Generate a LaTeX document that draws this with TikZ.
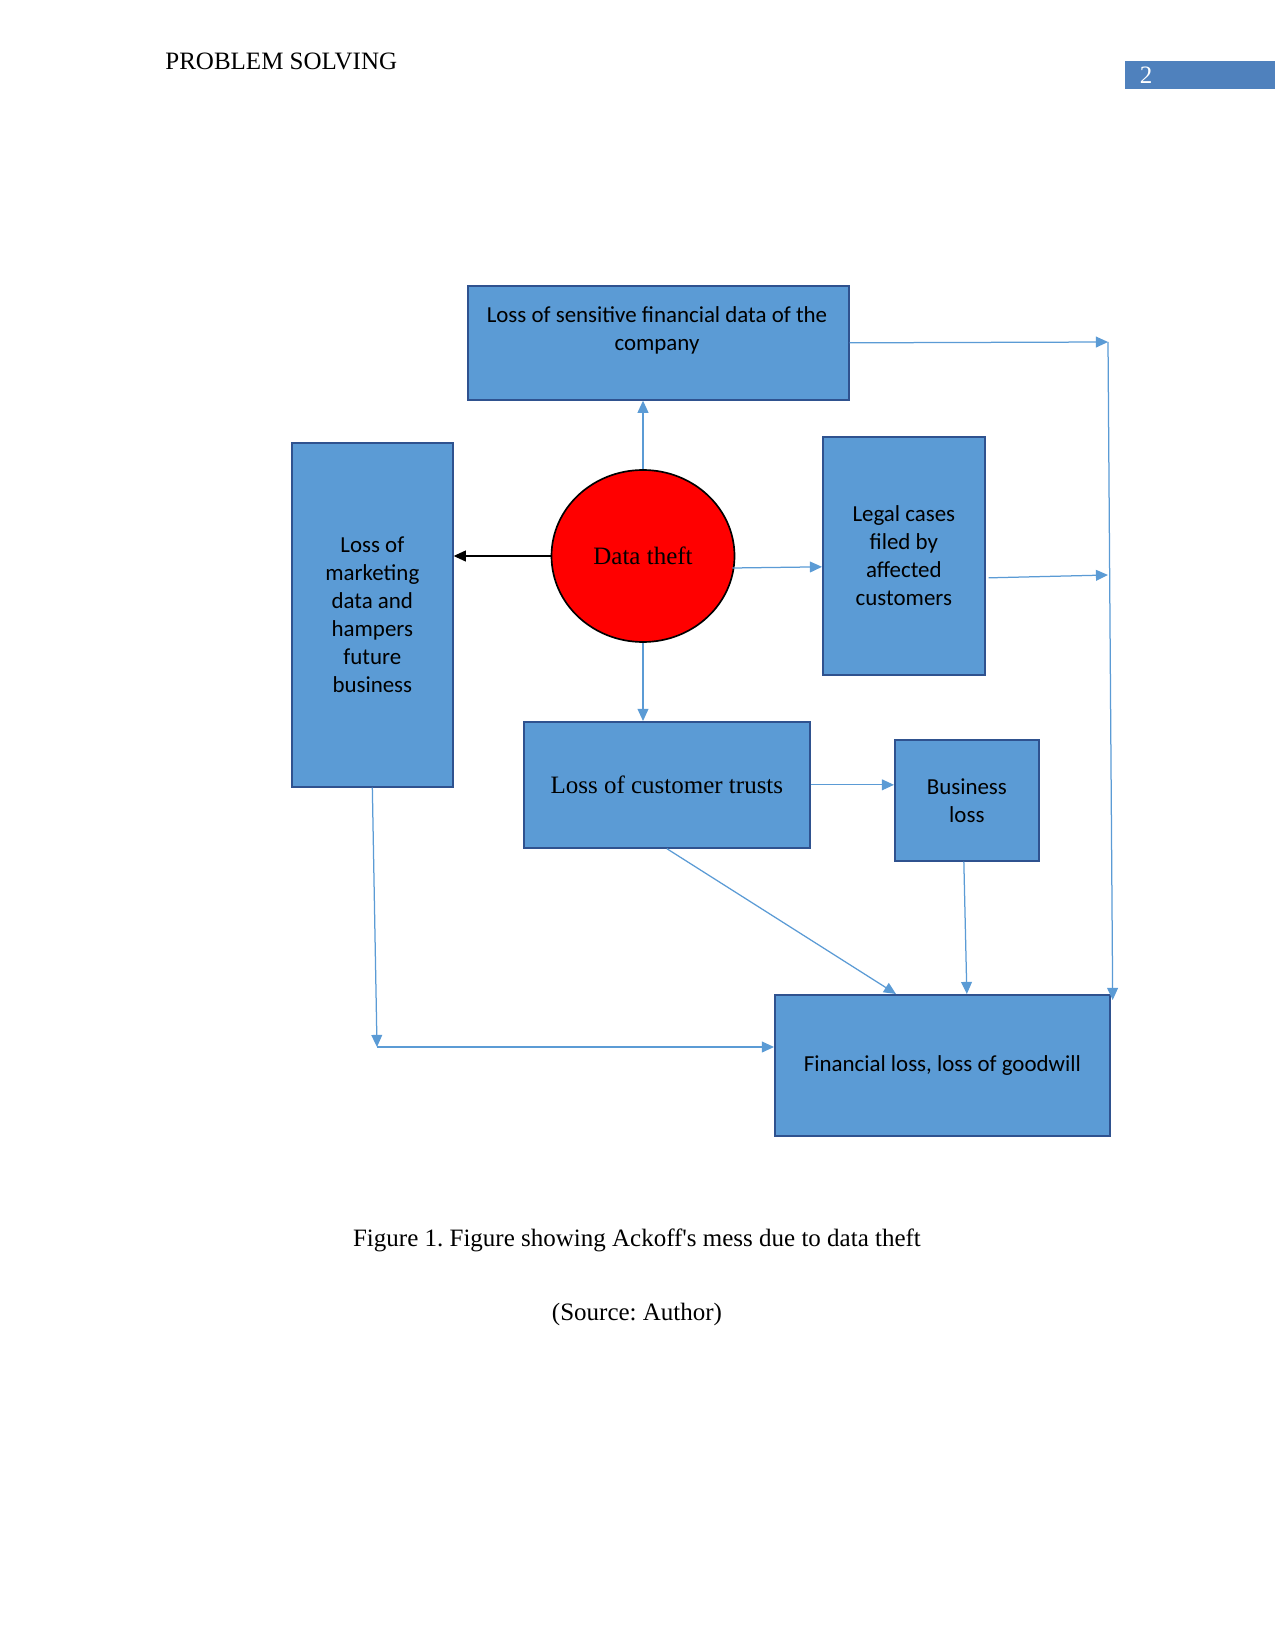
\documentclass[tikz,border=0pt]{standalone}
\usepackage{fontspec}
\setmainfont{Liberation Serif}
\newfontfamily\boxfont{Carlito}
\usetikzlibrary{arrows.meta,calc,shapes.geometric}
\definecolor{boxfill}{HTML}{5B9BD5}
\definecolor{boxline}{HTML}{2F528F}
\definecolor{arrowblue}{HTML}{5B9BD5}
\definecolor{pagebox}{HTML}{4F81BD}
\frenchspacing
\begin{document}
\begin{tikzpicture}[x=0.48pt,y=-0.48pt,
  box/.style={draw=boxline, fill=boxfill, line width=0.8pt, inner sep=0pt, anchor=north west,
              font=\boxfont\fontsize{11}{13.4}\selectfont, align=center, text=black},
  btext/.style={font=\boxfont\fontsize{11}{13.4}\selectfont, align=center, text=black},
  conn/.style={draw=arrowblue, line width=0.6pt, -{Triangle[length=5.8pt,width=5.2pt]}},
  serif/.style={font=\fontsize{12}{14}\selectfont}]
\useasboundingbox (0,0) rectangle (1275,1650);
% header
\node[serif, anchor=west, inner sep=0pt] (hdr) at (165,61) {PROBLEM SOLVING};
\node[fill=pagebox, anchor=north west, minimum width=72pt, minimum height=13.4pt, inner sep=0pt] (pg) at (1125,61) {};
\node[serif, text=white, inner sep=0pt] (pgnum) at (1146,75) {2};
% boxes
\node[box, minimum width=182.88pt, minimum height=54.72pt] (top) at (467,285) {};
\node[btext] (toptxt) at (657,330) {Loss of sensitive financial data of the\\company};
\node[box, minimum width=77.28pt, minimum height=165.12pt] (left) at (291,442)
  {Loss of\\marketing\\data and\\hampers\\future\\business};
\node[draw=black, fill=red, ellipse, minimum width=87.84pt, minimum height=82.56pt,
      inner sep=0pt, line width=0.8pt, serif] (dt) at (643,556) {Data theft};
\node[box, minimum width=77.76pt, minimum height=114.24pt] (legal) at (822,436)
  {Legal cases\\filed by\\affected\\customers};
\node[box, minimum width=137.28pt, minimum height=60.48pt, serif] (cust) at (523,721)
  {Loss of customer trusts};
\node[box, minimum width=69.12pt, minimum height=58.08pt] (biz) at (894,739)
  {Business\\loss};
\node[box, minimum width=160.8pt, minimum height=67.68pt] (fin) at (774,994)
  {Financial loss, loss of goodwill};
% coordinates
\coordinate (c1) at (1108,342);
\coordinate (c2) at (1108,575);
\coordinate (c3) at (377,1047);
% connectors
\draw[conn] (dt.north) -- (dt.north |- top.south);
\draw[conn, draw=black] (dt.west) -- (dt.west -| left.east);
\draw[conn] ($(dt.east)+(-3,12)$) -- ($(legal.west)+(0,11)$);
\draw[conn] (dt.south) -- (dt.south |- cust.north);
\draw[conn] (top.east) -- (c1);
\draw[conn] ($(legal.east)+(3,22)$) -- (c2);
\draw[conn] (c1) -- ($(fin.north east)+(2,6)$);
\draw[conn] (cust.east) -- (cust.east -| biz.west);
\draw[conn] (cust.south) -- ($(fin.north west)+(122,0)$);
\draw[conn] ($(biz.south)+(-3,0)$) -- (biz.south |- fin.north);
\draw[conn] (left.south) -- (c3);
\draw[conn] (c3) -- (c3 -| fin.west);
% caption
\node[serif] (cap) at (637,1240) {Figure 1. Figure showing Ackoff\textquotesingle s mess due to data theft};
\node[serif] (src) at (637,1314) {(Source: Author)};
\end{tikzpicture}
\end{document}
